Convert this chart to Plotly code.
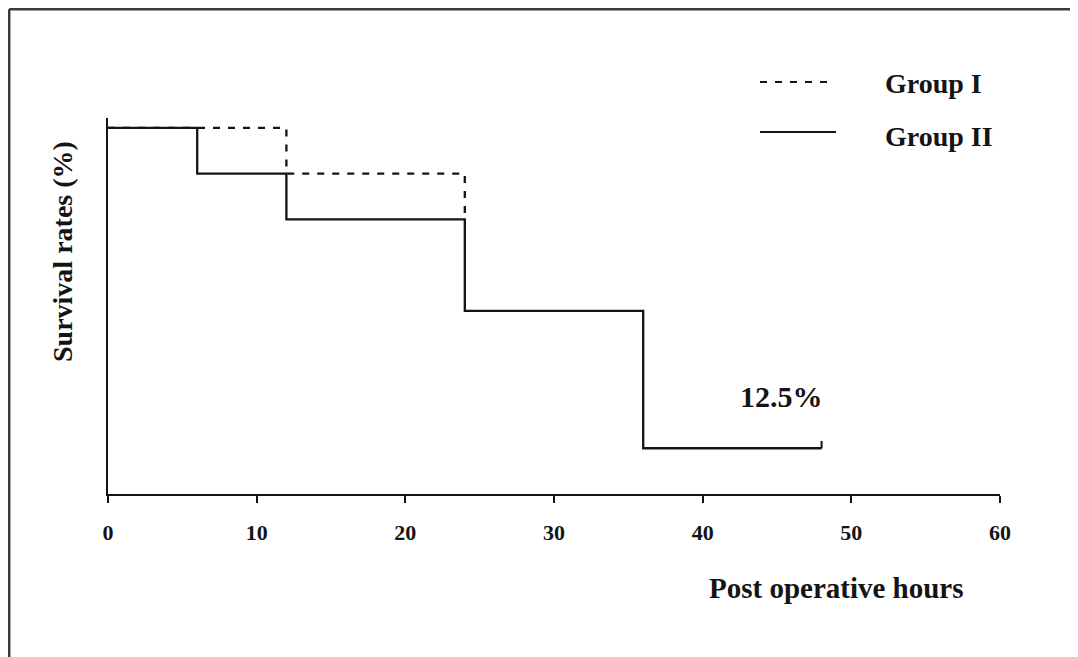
import plotly.graph_objects as go

# Data
group1_time = [0, 12, 24]
group1_surv = [100, 87.5, 75]
group2_time = [0, 6, 12, 24, 36, 48]
group2_surv = [100, 87.5, 75, 50, 12.5, 12.5]
censor_time = [48]
censor_surv = [12.5]
x_ticks = [0, 10, 20, 30, 40, 50, 60]
final_label = "12.5%"

W, H = 1078, 657
OFF = 8  # page body margin offset
L, R, T, B = 108 - OFF, 1000 - OFF, 118 - OFF, 494 - OFF
FONT = "Liberation Serif, Times New Roman, serif"
INK = "#141414"


def px(x):
    return (x - OFF - L) / (R - L)


def py(y):
    return (B - (y - OFF)) / (B - T)


fig = go.Figure()
fig.add_trace(go.Scatter(x=group1_time, y=group1_surv, mode="lines", line_shape="hv",
                         line=dict(color=INK, width=2.3, dash="7px,8px"), name="Group I",
                         showlegend=False, hoverinfo="skip"))
fig.add_trace(go.Scatter(x=group2_time, y=group2_surv, mode="lines", line_shape="hv",
                         line=dict(color=INK, width=2.3), name="Group II",
                         showlegend=False, hoverinfo="skip"))
# censor tick mark at the end of Group II
fig.add_trace(go.Scatter(x=[censor_time[0], censor_time[0]],
                         y=[censor_surv[0], censor_surv[0] + 2.0], mode="lines",
                         line=dict(color=INK, width=2), showlegend=False, hoverinfo="skip"))

fig.update_xaxes(range=[0, 60], tickvals=x_ticks, ticktext=[str(v) for v in x_ticks],
                 ticks="outside", ticklen=7, tickwidth=2, tickcolor=INK, ticklabelstandoff=11,
                 showline=True, linecolor=INK, linewidth=2, showgrid=False, zeroline=False,
                 tickfont=dict(family=FONT, size=22, color=INK, weight="bold"))
fig.update_yaxes(range=[0, 102.7], showticklabels=False, ticks="", showline=True,
                 linecolor=INK, linewidth=2, showgrid=False, zeroline=False)

fx0 = px(OFF + 1.2)
fy0 = py(OFF + 1.2)
shapes = [
    # outer frame (top and left)
    dict(type="line", xref="paper", yref="paper", x0=fx0, x1=px(W + 20), y0=fy0, y1=fy0,
         line=dict(color="#3a3a3a", width=2.5)),
    dict(type="line", xref="paper", yref="paper", x0=fx0, x1=fx0, y0=py(H + 20), y1=fy0,
         line=dict(color="#3a3a3a", width=2.5)),
    # legend samples
    dict(type="line", xref="paper", yref="paper", x0=px(760), x1=px(832), y0=py(82), y1=py(82),
         line=dict(color=INK, width=2, dash="7px,8px")),
    dict(type="line", xref="paper", yref="paper", x0=px(760), x1=px(836), y0=py(132), y1=py(132),
         line=dict(color=INK, width=2.2)),
]

annotations = [
    dict(text="Group I", xref="paper", yref="paper", x=px(883), y=py(83), xanchor="left",
         yanchor="middle", showarrow=False, font=dict(family=FONT, size=28, color=INK, weight="bold")),
    dict(text="Group II", xref="paper", yref="paper", x=px(883), y=py(137), xanchor="left",
         yanchor="middle", showarrow=False, font=dict(family=FONT, size=28, color=INK, weight="bold")),
    dict(text="Post operative hours", xref="paper", yref="paper", x=px(836), y=py(588),
         xanchor="center", yanchor="middle", showarrow=False,
         font=dict(family=FONT, size=29, color=INK, weight="bold")),
    dict(text="Survival rates (%)", xref="paper", yref="paper", x=px(62), y=py(252),
         xanchor="center", yanchor="middle", textangle=-90, showarrow=False,
         font=dict(family=FONT, size=28, color=INK, weight="bold")),
    dict(text=final_label, xref="x", yref="y", x=45.3, y=26.6, xanchor="center", yanchor="middle",
         showarrow=False, font=dict(family=FONT, size=30, color=INK, weight="bold")),
]

fig.update_layout(width=W, height=H, margin=dict(l=L, r=W - R, t=T, b=H - B),
                  paper_bgcolor="white", plot_bgcolor="white",
                  shapes=shapes, annotations=annotations, showlegend=False)

fig.write_html("out.html")
